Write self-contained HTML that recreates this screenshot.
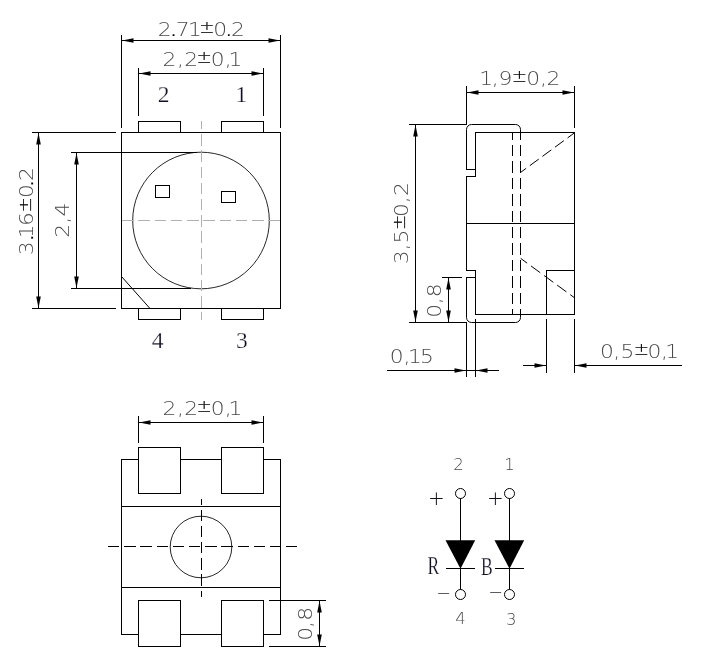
<!DOCTYPE html>
<html lang="en"><head><meta charset="utf-8"><title>LED package drawing</title>
<style>
html,body{margin:0;padding:0;background:#fff}
svg{display:block;will-change:transform}
.k{fill:none;stroke:#000;stroke-width:1;shape-rendering:crispEdges}
.kd{fill:none;stroke:#000;stroke-width:1;stroke-dasharray:11.4 4.8;shape-rendering:crispEdges}
.g{fill:none;stroke:#b0b0b0;stroke-width:1;stroke-dasharray:11.5 4.7;shape-rendering:crispEdges}
.aa{shape-rendering:geometricPrecision}
.ci{stroke-width:.85}
.wf{fill:#fff}
.ar{fill:#000;stroke:none}
.dim{font-family:"DejaVu Sans Light","DejaVu Sans","Liberation Sans",sans-serif;font-weight:200;fill:#4a4a4a}
.pm{fill:#000;stroke:#000;stroke-width:.2}
.thin{font-family:"DejaVu Sans Light","DejaVu Sans","Liberation Sans",sans-serif;font-weight:200;fill:#101018}
.ser{font-family:"Liberation Serif","Noto Serif CJK SC",serif;fill:#101020;stroke:#fff;stroke-width:.25}
</style></head><body>
<svg width="703" height="667" viewBox="0 0 703 667">
<rect width="703" height="667" fill="#fff"/>
<rect class="k" x="121.5" y="132.5" width="159" height="176"/>
<path class="k" d="M138.5 132V121.5H180.5V132"/>
<path class="k" d="M138.5 309V319.5H180.5V309"/>
<path class="k" d="M221.5 132V121.5H263.5V132"/>
<path class="k" d="M221.5 309V319.5H263.5V309"/>
<circle class="k aa ci" cx="201" cy="220.5" r="68.3"/>
<rect class="k" x="155.5" y="185.5" width="14" height="12"/>
<rect class="k" x="221.5" y="191.5" width="14" height="11"/>
<path class="k aa" d="M121.5 276.5L150 308.5"/>
<path class="g" stroke-dashoffset="3.4" d="M201.5 121.3V320"/>
<path class="g" style="stroke-dasharray:11.5 4.75" d="M122 220.5H280"/>
<path class="k" d="M121.5 35V128"/>
<path class="k" d="M280.5 35V128"/>
<path class="k" d="M121 40.5H281"/>
<polygon class="ar" points="122.0,40.5 133.5,38.2 133.5,42.8"/>
<polygon class="ar" points="280.0,40.5 268.5,38.2 268.5,42.8"/>
<path class="k" d="M138.5 68V116"/>
<path class="k" d="M263.5 68V116"/>
<path class="k" d="M138 73.5H264"/>
<polygon class="ar" points="139.0,73.5 150.5,71.2 150.5,75.8"/>
<polygon class="ar" points="263.0,73.5 251.5,71.2 251.5,75.8"/>
<text class="dim" transform="translate(0 35.6) scale(1.08 1)" x="146.11 156.20 162.75 174.07 184.46 197.50 207.32 213.98" y="0 0 0 0 -2.8 0 0 0" font-size="20.2">2<tspan class="pm" font-size="28">.</tspan>71<tspan class="pm" font-size="17">±</tspan>0<tspan class="pm" font-size="28">.</tspan>2</text>
<text class="dim" transform="translate(0 65.6) scale(1.08 1)" x="150.37 163.85 170.55 181.86 195.09 208.11 211.67" y="0 0 0 -2.8 0 0 0" font-size="20.2">2,2<tspan class="pm" font-size="17">±</tspan>0,1</text>
<path class="k" d="M32 132.5H116"/>
<path class="k" d="M32 308.5H116"/>
<path class="k" d="M38.5 132V309"/>
<polygon class="ar" points="38.5,133.0 36.2,144.5 40.8,144.5"/>
<polygon class="ar" points="38.5,308.0 36.2,296.5 40.8,296.5"/>
<path class="k" d="M71 152.5H197"/>
<path class="k" d="M71 288.5H191"/>
<path class="k" d="M76.5 152V289"/>
<polygon class="ar" points="76.5,153.0 74.2,164.5 78.8,164.5"/>
<polygon class="ar" points="76.5,288.0 74.2,276.5 78.8,276.5"/>
<text class="dim" transform="translate(33.4 1000) rotate(-90) scale(1.08 1)" x="689.70 701.48 705.28 716.71 729.09 742.59 751.57 758.33" y="0 0 0 0 -2.8 0 0 0" font-size="20.2">3<tspan class="pm" font-size="28">.</tspan>16<tspan class="pm" font-size="17">±</tspan>0<tspan class="pm" font-size="28">.</tspan>2</text>
<text class="dim" transform="translate(69.3 1000) rotate(-90) scale(1.08 1)" x="705.83 718.85 725.37" y="0 0 0" font-size="20.2">2,4</text>
<text class="ser" x="163.6" y="102" font-size="23.5" text-anchor="middle">2</text>
<text class="ser" x="241.3" y="102" font-size="23.5" text-anchor="middle">1</text>
<text class="ser" x="157.5" y="347.7" font-size="23.5" text-anchor="middle">4</text>
<text class="ser" x="241.8" y="347.7" font-size="23.5" text-anchor="middle">3</text>
<path class="k aa" d="M466.5 169.5V129.5A5 5 0 0 1 471.5 124.5H515.5A5 5 0 0 1 520.5 129.5V132.5"/>
<path class="k aa" d="M466.5 277.5V317.5A5 5 0 0 0 471.5 322.5H515.5A5 5 0 0 0 520.5 317.5V314.5"/>
<path class="k" d="M475 132.5H575"/>
<path class="k" d="M475 314.5H575"/>
<path class="k" d="M574.5 132V315"/>
<path class="k" d="M475.5 132V177"/>
<path class="k" d="M466 169.5H476"/>
<path class="k" d="M466 176.5H476"/>
<path class="k" d="M466.5 176V271"/>
<path class="k" d="M466 270.5H476"/>
<path class="k" d="M475.5 270V315"/>
<path class="k" d="M466 277.5H476"/>
<path class="k" d="M466 223.5H575"/>
<path class="k" d="M546 270.5H575"/>
<path class="k" d="M546.5 270V315"/>
<path class="kd" style="stroke-dasharray:11.4 5;stroke-dashoffset:3.9" d="M512.5 132.5V314.5"/>
<path class="kd" style="stroke-dasharray:11.4 5;stroke-dashoffset:3.9" d="M520.5 132.5V314.5"/>
<path class="kd aa" style="stroke-dasharray:11 4.6;stroke-dashoffset:4" d="M520.5 172.5L574.7 132.7"/>
<path class="kd aa" stroke-dashoffset="3.4" d="M520.7 258.4L574.5 297.8"/>
<path class="k" d="M466.5 86V125"/>
<path class="k" d="M574.5 86V128"/>
<path class="k" d="M466 92.5H575"/>
<polygon class="ar" points="467.0,92.5 478.5,90.2 478.5,94.8"/>
<polygon class="ar" points="574.0,92.5 562.5,90.2 562.5,94.8"/>
<text class="dim" transform="translate(0 84.6) scale(1.08 1)" x="443.70 455.24 461.62 473.81 487.22 500.05 506.11" y="0 0 0 -2.8 0 0 0" font-size="20.2">1,9<tspan class="pm" font-size="17">±</tspan>0,2</text>
<path class="k" d="M409 124.5H467"/>
<path class="k" d="M409 322.5H467"/>
<path class="k" d="M415.5 124V323"/>
<polygon class="ar" points="415.5,125.0 413.2,136.5 417.8,136.5"/>
<polygon class="ar" points="415.5,322.0 413.2,310.5 417.8,310.5"/>
<text class="dim" transform="translate(407.9 1000) rotate(-90) scale(1.08 1)" x="681.37 694.03 700.46 713.07 725.09 737.64 744.35" y="0 0 0 -2.8 0 0 0" font-size="20.2">3,5<tspan class="pm" font-size="17">±</tspan>0,2</text>
<path class="k" d="M442 277.5H462"/>
<path class="k" d="M448.5 277V323"/>
<polygon class="ar" points="448.5,278.0 446.2,289.5 450.8,289.5"/>
<polygon class="ar" points="448.5,322.0 446.2,310.5 450.8,310.5"/>
<text class="dim" transform="translate(440.5 1000) rotate(-90) scale(1.08 1)" x="631.66 644.31 650.62" y="0 0 0" font-size="20.2">0,8</text>
<path class="k" d="M466.5 322V377"/>
<path class="k" d="M475.5 319V377"/>
<path class="k" d="M387 370.5H499"/>
<polygon class="ar" points="466.0,370.5 454.5,368.2 454.5,372.8"/>
<polygon class="ar" points="476.0,370.5 487.5,368.2 487.5,372.8"/>
<text class="dim" transform="translate(0 362.8) scale(1.08 1)" x="360.92 373.57 377.87 388.89" y="0 0 0 0" font-size="20.2">0,15</text>
<path class="k" d="M546.5 319V373"/>
<path class="k" d="M574.5 319V373"/>
<path class="k" d="M523 365.5H547"/>
<path class="k" d="M574 365.5H682"/>
<polygon class="ar" points="546.0,365.5 534.5,363.2 534.5,367.8"/>
<polygon class="ar" points="575.0,365.5 586.5,363.2 586.5,367.8"/>
<text class="dim" transform="translate(0 357.8) scale(1.08 1)" x="555.55 567.83 574.53 586.77 599.63 612.00 616.02" y="0 0 0 -2.8 0 0 0" font-size="20.2">0,5<tspan class="pm" font-size="17">±</tspan>0,1</text>
<rect class="k" x="121.5" y="459.5" width="159" height="175"/>
<path class="k" d="M121 506.5H281"/>
<path class="k" d="M121 587.5H281"/>
<rect class="k wf" x="138.5" y="447.5" width="42" height="46"/>
<rect class="k wf" x="138.5" y="600.5" width="42" height="46"/>
<rect class="k wf" x="221.5" y="447.5" width="42" height="46"/>
<rect class="k wf" x="221.5" y="600.5" width="42" height="46"/>
<circle class="k aa ci" cx="201" cy="547" r="30.8"/>
<path class="kd" d="M108 546.5H297.4"/>
<path class="kd" stroke-dashoffset="5.6" d="M201.5 499V597"/>
<path class="k" d="M138.5 416V443"/>
<path class="k" d="M263.5 416V443"/>
<path class="k" d="M138 422.5H264"/>
<polygon class="ar" points="139.0,422.5 150.5,420.2 150.5,424.8"/>
<polygon class="ar" points="263.0,422.5 251.5,420.2 251.5,424.8"/>
<text class="dim" transform="translate(0 414.8) scale(1.08 1)" x="150.37 163.85 170.55 181.86 195.09 208.11 211.67" y="0 0 0 -2.8 0 0 0" font-size="20.2">2,2<tspan class="pm" font-size="17">±</tspan>0,1</text>
<path class="k" d="M269 600.5H326"/>
<path class="k" d="M269 646.5H326"/>
<path class="k" d="M319.5 600V647"/>
<polygon class="ar" points="319.5,601.0 317.2,612.5 321.8,612.5"/>
<polygon class="ar" points="319.5,646.0 317.2,634.5 321.8,634.5"/>
<text class="dim" transform="translate(311.8 1000) rotate(-90) scale(1.08 1)" x="332.68 344.50 351.08" y="0 0 0" font-size="20.2">0,8</text>
<path class="k" d="M460.5 498V590"/>
<circle class="k aa wf" cx="460.5" cy="493.5" r="5"/>
<circle class="k aa wf" cx="460.5" cy="594.5" r="5"/>
<polygon class="ar" points="445.5,540.3 475.2,540.3 460.5,568.8"/>
<path class="k" d="M446 568.5H475"/>
<path class="k" d="M509.5 498V590"/>
<circle class="k aa wf" cx="509.5" cy="493.5" r="5"/>
<circle class="k aa wf" cx="509.5" cy="594.5" r="5"/>
<polygon class="ar" points="494.5,540.3 524.2,540.3 509.5,568.8"/>
<path class="k" d="M495 568.5H524"/>
<text class="dim" x="458.5" y="470" font-size="16.5" text-anchor="middle">2</text>
<text class="dim" x="509.5" y="470" font-size="16.5" text-anchor="middle">1</text>
<text class="dim" x="460.6" y="624" font-size="16.5" text-anchor="middle">4</text>
<text class="dim" x="511.3" y="625" font-size="16.5" text-anchor="middle">3</text>
<text class="thin" x="436.4" y="505.3" font-size="20" text-anchor="middle">+</text>
<text class="thin" x="495.5" y="505.3" font-size="20" text-anchor="middle">+</text>
<text class="thin" x="443.6" y="599.2" font-size="17.5" text-anchor="middle">−</text>
<text class="thin" x="495.6" y="597.6" font-size="17.5" text-anchor="middle">−</text>
<text class="ser" x="427.5" y="573.7" font-size="24.5" textLength="11.7" lengthAdjust="spacingAndGlyphs">R</text>
<text class="ser" x="481" y="575" font-size="24.5" textLength="11.7" lengthAdjust="spacingAndGlyphs">B</text>
</svg>
</body></html>
